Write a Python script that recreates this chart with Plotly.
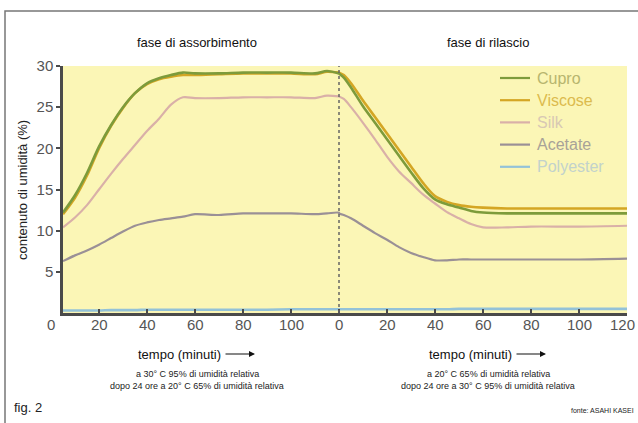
import plotly.graph_objects as go

# ---------------- data ----------------
series_names = ["Cupro", "Viscose", "Silk", "Acetate", "Polyester"]

# absorption phase (minutes)
t_abs = [5, 10, 15, 20, 25, 30, 35, 40, 45, 50, 55, 60, 70, 80, 90, 100, 110, 115, 120]
abs_cupro = [12.2, 14.3, 17.0, 20.2, 22.8, 25.0, 26.7, 27.9, 28.5, 28.9, 29.2, 29.1, 29.1, 29.2, 29.2, 29.2, 29.1, 29.4, 29.1]
abs_viscose = [12.0, 14.0, 16.7, 20.0, 22.7, 24.9, 26.7, 27.8, 28.4, 28.7, 28.9, 28.9, 29.0, 29.1, 29.1, 29.1, 29.0, 29.3, 29.2]
abs_silk = [10.4, 11.6, 13.1, 15.0, 16.9, 18.7, 20.4, 22.1, 23.6, 25.3, 26.2, 26.1, 26.1, 26.2, 26.2, 26.2, 26.1, 26.4, 26.3]
abs_acetate = [6.3, 7.0, 7.6, 8.3, 9.1, 9.9, 10.6, 11.0, 11.3, 11.5, 11.7, 12.0, 11.9, 12.1, 12.1, 12.1, 12.0, 12.1, 12.2]
abs_polyester = [0.3, 0.3, 0.3, 0.3, 0.35, 0.35, 0.35, 0.4, 0.4, 0.4, 0.4, 0.4, 0.4, 0.4, 0.4, 0.45, 0.45, 0.45, 0.45]

# release phase (minutes, restarting at 0)
t_rel = [0, 2, 5, 10, 15, 20, 25, 30, 35, 40, 45, 50, 55, 60, 70, 80, 100, 120]
rel_cupro = [29.1, 28.6, 27.4, 25.1, 23.1, 21.1, 19.1, 17.1, 15.2, 13.8, 13.2, 12.8, 12.4, 12.2, 12.1, 12.1, 12.1, 12.1]
rel_viscose = [29.2, 28.9, 27.9, 25.8, 23.8, 21.8, 19.8, 17.8, 15.8, 14.2, 13.5, 13.1, 12.9, 12.8, 12.7, 12.7, 12.7, 12.7]
rel_silk = [26.3, 26.0, 25.0, 23.1, 21.1, 19.0, 17.2, 15.8, 14.4, 13.3, 12.25, 11.5, 10.8, 10.4, 10.4, 10.5, 10.5, 10.6]
rel_acetate = [12.1, 11.9, 11.5, 10.6, 9.7, 8.9, 8.0, 7.3, 6.8, 6.4, 6.4, 6.5, 6.5, 6.5, 6.5, 6.5, 6.5, 6.6]
rel_polyester = [0.45, 0.45, 0.45, 0.45, 0.45, 0.45, 0.45, 0.45, 0.45, 0.45, 0.45, 0.5, 0.5, 0.5, 0.5, 0.5, 0.5, 0.5]

phase_length = 120
tick_vals = [0, 20, 40, 60, 80, 100, 120, 140, 160, 180, 200, 220, 240]
tick_text = ["0", "20", "40", "60", "80", "100", "0", "20", "40", "60", "80", "100", "120"]
y_ticks = [5, 10, 15, 20, 25, 30]

line_colors = ["#7d9b3b", "#d4a624", "#d9b0a8", "#9a9096", "#93c2d8"]
legend_text_colors = ["#b7b56e", "#dcbb4e", "#d8c8b4", "#a8a298", "#c2d2cc"]
line_widths = [2.6, 2.6, 2.2, 2.2, 2.6]

abs_data = [abs_cupro, abs_viscose, abs_silk, abs_acetate, abs_polyester]
rel_data = [rel_cupro, rel_viscose, rel_silk, rel_acetate, rel_polyester]

fig = go.Figure()
x_all = t_abs + [phase_length + t for t in t_rel]
# draw in reverse so Cupro is on top
for i in reversed(range(len(series_names))):
    y_all = abs_data[i] + rel_data[i]
    fig.add_trace(go.Scatter(
        x=x_all, y=y_all, mode="lines", name=series_names[i],
        line=dict(color=line_colors[i], width=line_widths[i], shape="spline", smoothing=0.8),
        showlegend=False, hoverinfo="skip"))

W, H = 638, 423
L, R, T, B = 63, 11, 66, 110
pw, ph = W - L - R, H - T - B

def px(xp):
    return (xp - L) / pw

def py(yp):
    return (H - B - yp) / ph

x_min, x_max = 5, 240

def xpix(v):
    return L + (v - x_min) / (x_max - x_min) * pw

font_fam = "Liberation Sans, Arial, Helvetica, sans-serif"

fig.update_layout(
    width=W, height=H,
    margin=dict(l=L, r=R, t=T, b=B),
    paper_bgcolor="white",
    plot_bgcolor="#fbf6b6",
    font=dict(family=font_fam),
    showlegend=False,
)
# inner ticks drawn by the axis; labels drawn as text below the axis
inner_ticks = [v for v in tick_vals if x_min < v]
fig.update_xaxes(
    range=[x_min, x_max], tickvals=inner_ticks, showticklabels=False,
    showgrid=False, zeroline=False, showline=True, linecolor="#4a4a4a", linewidth=2.5,
    ticks="inside", ticklen=4, tickwidth=2, tickcolor="#4a4a4a",
)
fig.update_yaxes(
    range=[0, 30], tickvals=y_ticks,
    showgrid=False, zeroline=False, showline=True, linecolor="#4a4a4a", linewidth=2.5,
    ticks="outside", ticklen=4, tickwidth=2, tickcolor="#4a4a4a",
    tickfont=dict(size=15, color="#555555"),
)

shapes = []
# dotted separator between phases
shapes.append(dict(type="line", xref="x", yref="y", x0=phase_length, x1=phase_length, y0=0, y1=30,
                   line=dict(color="#666666", width=1.5, dash="dot")))
# outer frame
shapes.append(dict(type="rect", xref="paper", yref="paper", x0=px(5), x1=px(700), y0=py(500), y1=py(11),
                   line=dict(color="#777777", width=1.5), fillcolor="rgba(0,0,0,0)", layer="below"))

annotations = []
# x tick labels
for v, txt in zip(tick_vals, tick_text):
    xp = xpix(v)
    anchor = "center"
    if xp + 14 > W:
        xp, anchor = W - 1, "right"
    annotations.append(dict(xref="paper", yref="paper", x=px(xp), y=py(324), text=txt, showarrow=False,
                            xanchor=anchor, yanchor="middle", font=dict(size=15, color="#555555")))

# manual legend
for i, name in enumerate(series_names):
    yy = py(78 + i * 22.2)
    shapes.append(dict(type="line", xref="paper", yref="paper", x0=px(500), x1=px(530), y0=yy, y1=yy,
                       line=dict(color=line_colors[i], width=2.2)))
    annotations.append(dict(xref="paper", yref="paper", x=px(535), y=yy, text=name, showarrow=False,
                            xanchor="left", yanchor="middle",
                            font=dict(size=16, color=legend_text_colors[i], family=font_fam)))

# y axis title
annotations.append(dict(xref="paper", yref="paper", x=px(22), y=py(190), text="contenuto di umidità (%)",
                        showarrow=False, textangle=-90, xanchor="center", yanchor="middle",
                        font=dict(size=13, color="#222222")))
# phase titles
annotations.append(dict(xref="paper", yref="paper", x=px(197), y=py(43), text="fase di assorbimento",
                        showarrow=False, xanchor="center", yanchor="middle", font=dict(size=13, color="#111111")))
annotations.append(dict(xref="paper", yref="paper", x=px(488), y=py(43), text="fase di rilascio",
                        showarrow=False, xanchor="center", yanchor="middle", font=dict(size=13, color="#111111")))

# bottom captions
for cx, l1, l2 in [(197, "a 30° C 95% di umidità relativa", "dopo 24 ore a 20° C 65% di umidità relativa"),
                   (488, "a 20° C 65% di umidità relativa", "dopo 24 ore a 30° C 95% di umidità relativa")]:
    annotations.append(dict(xref="paper", yref="paper", x=px(cx - 61), y=py(354), text="tempo (minuti)",
                            showarrow=False, xanchor="left", yanchor="middle", font=dict(size=13, color="#111111")))
    annotations.append(dict(xref="paper", yref="paper", x=px(cx + 58), y=py(354), text="",
                            showarrow=True, ax=-31, ay=0, arrowhead=2, arrowsize=1, arrowwidth=1.2,
                            arrowcolor="#111111"))
    annotations.append(dict(xref="paper", yref="paper", x=px(cx), y=py(374), text=l1,
                            showarrow=False, xanchor="center", yanchor="middle", font=dict(size=9, color="#222222")))
    annotations.append(dict(xref="paper", yref="paper", x=px(cx), y=py(386), text=l2,
                            showarrow=False, xanchor="center", yanchor="middle", font=dict(size=9, color="#222222")))

annotations.append(dict(xref="paper", yref="paper", x=px(12), y=py(407), text="fig. 2",
                        showarrow=False, xanchor="left", yanchor="middle", font=dict(size=13, color="#222222")))
annotations.append(dict(xref="paper", yref="paper", x=px(636), y=py(410), text="fonte: ASAHI KASEI",
                        showarrow=False, xanchor="right", yanchor="middle", font=dict(size=7, color="#222222")))

fig.update_layout(shapes=shapes, annotations=annotations)
fig.write_html("out.html", config={"displayModeBar": False},
               post_script="document.body.style.margin='0';document.body.style.padding='0';")
